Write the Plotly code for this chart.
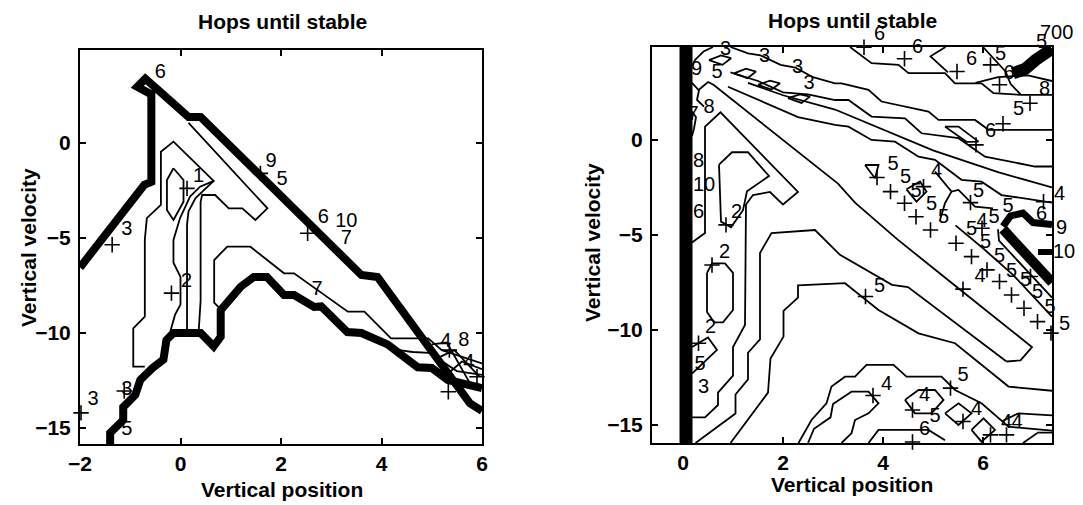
import plotly.graph_objects as go

FONT = "Liberation Sans, Arial, Helvetica, sans-serif"

# ---------------- axes data ----------------
L_XRANGE = [-2, 6]
L_YRANGE = [-15.84, 4.89]
L_XTICKS = [-2, 0, 2, 4, 6]
R_XRANGE = [-0.62, 7.38]
R_YRANGE = [-15.95, 4.89]
R_XTICKS = [0, 2, 4, 6]
YTICKS = [-15, -10, -5, 0]
TITLE = "Hops until stable"
XLABEL = "Vertical position"
YLABEL = "Vertical velocity"

# ---------------- left panel contours ----------------
lt_upper_x = [-2.0, -0.95, -0.72, -0.58, -0.58, -0.86, -0.70, -0.40, 0.16, 0.40, 3.60, 3.92, 5.76, 6.0]
lt_upper_y = [-6.55, -2.95, -2.2, -2.05, 2.55, 2.95, 3.38, 2.68, 1.37, 1.37, -6.95, -7.05, -13.7, -14.1]
lt_lower_x = [-1.4, -1.4, -1.14, -1.14, -0.9, -0.8, -0.54, -0.34, -0.28, -0.14, 0.4, 0.66, 0.8, 0.8, 1.2,
              1.46, 1.72, 2.06, 2.26, 2.66, 2.8, 3.32, 3.6, 4.0, 4.12, 4.72, 5.0, 5.32, 5.7, 6.0]
lt_lower_y = [-15.84, -15.26, -14.58, -13.9, -13.26, -12.47, -11.8, -11.4, -10.37, -10.0, -10.0, -10.7, -10.2,
              -8.8, -7.56, -7.05, -7.05, -8.0, -8.0, -8.63, -8.6, -9.95, -10.0, -10.5, -10.6, -11.8, -11.84,
              -12.47, -12.7, -12.9]
lc_outer_x = [-0.71, -0.94, -0.94, -0.71, -0.71, -0.67, -0.39, -0.39, -0.14, 0.66, 0.39, 0.19, -0.01, -0.14,
              -0.14, 0.0, 0.0, -0.11, -0.2]
lc_outer_y = [-11.77, -11.77, -9.75, -9.14, -5.1, -3.96, -3.26, -0.46, 0.07, -2.0, -2.3, -2.82, -3.96, -5.1,
              -6.3, -7.05, -8.5, -9.05, -9.9]
lc_loop1_x = [-0.14, 0.06, 0.06, -0.14, -0.27, -0.27, -0.14]
lc_loop1_y = [-1.33, -1.95, -3.09, -4.05, -3.53, -1.95, -1.33]
lc_two_x = [0.66, 0.45, 0.3, 0.16, 0.13, 0.13]
lc_two_y = [-2.0, -2.5, -2.9, -3.6, -4.3, -9.95]
lc_strip_x = [0.16, 1.73, 1.49, 1.23, 0.96, 0.69, 0.43, 0.40, 0.40, 0.36]
lc_strip_y = [1.05, -3.44, -4.05, -3.44, -3.44, -2.74, -2.74, -3.1, -8.3, -10.0]
lc_seven_x = [0.78, 0.67, 0.67, 0.93, 1.39, 2.06, 2.26, 3.33, 3.66, 4.19, 4.93, 5.2, 6.0]
lc_seven_y = [-8.7, -8.4, -6.16, -5.46, -5.46, -6.86, -6.86, -8.88, -8.88, -10.28, -10.28, -10.9, -11.6]
lc_eight_x = [4.35, 4.62, 4.95, 5.5, 6.0]
lc_eight_y = [-10.9, -11.0, -11.05, -12.0, -12.2]
lc_h1_x = [5.0, 5.3, 5.75]
lc_h1_y = [-10.6, -10.5, -12.6]
lc_h2_x = [5.05, 5.45, 5.95]
lc_h2_y = [-11.4, -10.9, -12.3]
lc_h3_x = [5.25, 5.6, 6.0]
lc_h3_y = [-12.3, -11.5, -11.9]

left_lbl_x = [0.36, 0.12, 2.72, 1.8, 2.02, 2.84, 3.3, 3.3, 5.28, 5.64, 5.74, -1.74, -1.07, -1.07, -1.07, -0.4]
left_lbl_y = [-1.8, -7.3, -7.74, -1.0, -1.95, -3.95, -4.15, -5.05, -10.45, -10.4, -11.6, -13.5, -4.58, -13.0, -15.1, 3.7]
left_lbl_t = ["1", "2", "7", "9", "5", "6", "10", "7", "4", "8", "4", "3", "3", "3", "5", "6"]
left_plus_x = [0.13, -0.18, 1.59, 2.53, 5.33, 5.9, -1.36, -1.98, -1.12, 5.35]
left_plus_y = [-2.39, -7.9, -1.6, -4.75, -13.09, -12.3, -5.36, -14.2, -13.05, -10.9]

# ---------------- right panel contours ----------------
rb_bar_x = [-0.06, 0.18, 0.18, -0.06, -0.06]
rb_bar_y = [-15.95, -15.95, 4.89, 4.89, -15.95]

rc_outer_x = [0.18, 0.44, 0.44, 0.75, 2.3, 2.0, 1.74, 1.4, 1.26, 1.24, 1.0, 1.0, 0.7, 0.7, 0.44, 0.18]
rc_outer_y = [-5.4, -4.9, 0.7, 1.45, -2.74, -3.4, -2.74, -2.9, -3.4, -9.74, -10.9, -12.4, -13.3, -13.95, -14.6, -14.6]
rc_loopa_x = [0.72, 0.98, 1.3, 1.72, 1.28, 1.2, 0.96, 0.76, 0.72]
rc_loopa_y = [-1.3, -0.65, -0.65, -1.9, -2.7, -3.7, -4.6, -4.3, -1.3]
rc_loopb_x = [0.48, 0.58, 0.84, 1.0, 1.0, 0.8, 0.62, 0.48, 0.48]
rc_loopb_y = [-7.0, -6.5, -6.5, -7.0, -8.95, -9.6, -9.6, -9.05, -7.0]
rc_vee_x = [0.18, 0.5, 0.68, 0.42, 0.18]
rc_vee_y = [-10.9, -10.4, -11.05, -11.7, -12.3]
rc_d1_x = [0.3, 0.5, 0.61, 3.1, 3.44, 3.91, 4.3, 5.6, 6.98, 6.75, 6.47]
rc_d1_y = [2.6, 3.05, 2.9, -2.3, -3.3, -4.4, -5.26, -8.0, -10.9, -11.6, -11.66]
rc_e_x = [0.25, 1.05, 1.05, 1.3, 1.3, 1.54, 1.54, 1.77, 2.64, 3.14, 4.18, 4.5, 6.47]
rc_e_y = [-15.95, -14.4, -13.4, -12.6, -11.2, -10.5, -5.95, -4.9, -4.74, -6.05, -7.63, -7.74, -11.66]
rc_b_x = [0.95, 1.7, 1.75, 2.01, 2.01, 2.3, 2.3, 3.24, 3.91, 4.71, 5.44, 6.17, 6.51, 7.38]
rc_b_y = [-15.95, -13.3, -11.5, -10.35, -9.0, -8.3, -7.65, -7.54, -8.95, -10.18, -10.7, -12.28, -12.98, -13.2]
rc_f_x = [2.31, 2.57, 2.87, 2.97, 3.24, 3.44, 3.67, 4.21, 4.47, 5.17, 5.44, 5.97, 6.51, 7.38]
rc_f_y = [-15.95, -14.74, -13.86, -12.98, -12.46, -12.46, -11.84, -11.84, -12.46, -12.46, -13.16, -13.86, -15.09, -15.3]
rc_g_x = [2.5, 2.62, 2.95, 3.0, 3.37, 3.71, 3.91, 3.71, 3.44, 3.37, 3.17]
rc_g_y = [-15.95, -15.2, -14.6, -13.9, -13.25, -13.25, -13.86, -14.39, -14.74, -15.44, -15.95]
rc_h_x = [3.71, 3.91, 4.91, 5.24]
rc_h_y = [-15.95, -15.26, -15.26, -15.8]
rc_i_x = [4.44, 4.71, 5.04, 5.21, 4.97, 4.64, 4.44]
rc_i_y = [-13.68, -13.16, -13.16, -13.68, -14.39, -14.39, -13.68]
rc_j1_x = [5.24, 5.51, 5.77, 5.51, 5.24]
rc_j1_y = [-14.39, -13.86, -14.39, -15.0, -14.39]
rc_j2_x = [5.77, 6.01, 6.24, 5.97, 5.77]
rc_j2_y = [-15.26, -14.65, -15.26, -15.88, -15.26]
rc_k_x = [6.37, 6.71, 7.38]
rc_k_y = [-14.82, -14.39, -14.5]
rc_k2_x = [6.8, 7.1, 7.38]
rc_k2_y = [-15.95, -15.4, -15.4]
rc_a_x = [3.34, 3.77, 4.31, 4.51, 5.24, 5.44, 5.97, 6.21, 6.77, 7.38]
rc_a_y = [4.89, 4.04, 3.95, 3.51, 3.51, 2.98, 2.98, 2.46, 2.37, 2.37]
rc_a2_x = [5.25, 4.95, 5.3]
rc_a2_y = [4.89, 4.4, 3.55]
rc_b3_x = [0.95, 1.3, 1.55, 1.95, 2.25, 2.6, 3.04, 3.17, 3.71, 3.97, 4.91, 5.11, 5.84, 6.11, 7.38]
rc_b3_y = [4.89, 4.55, 4.45, 3.95, 3.8, 3.3, 2.98, 2.98, 2.63, 2.02, 1.49, 1.05, 1.05, 0.53, 0.53]
rc_c_x = [0.95, 1.5, 2.0, 2.5, 3.04, 3.31, 3.77, 4.44, 4.77, 5.51, 6.04, 7.04, 7.38]
rc_c_y = [3.55, 3.1, 2.5, 2.4, 2.1, 2.1, 1.23, 1.14, 0.35, 0.09, -0.88, -1.4, -1.4]
rc_d_x = [1.3, 2.0, 3.04, 5.0, 6.3, 7.38]
rc_d_y = [3.0, 2.35, 1.6, -0.55, -1.7, -2.5]
rc_e2_x = [0.9, 1.6, 2.3, 3.04, 3.31, 3.77, 4.24, 4.71, 5.04, 5.57, 5.97, 6.37, 7.38]
rc_e2_y = [2.8, 2.0, 1.2, 0.79, 0.7, 0.0, -0.09, -0.88, -1.05, -2.1, -2.2, -2.9, -3.3]
rc_n1_x = [6.0, 6.2, 6.45, 6.55, 6.75]
rc_n1_y = [4.89, 4.3, 3.6, 2.95, 2.4]
rc_n2_x = [5.85, 6.3, 6.9, 7.38]
rc_n2_y = [3.0, 3.3, 3.4, 3.1]
rc_par_x = [5.24, 5.51, 5.91, 5.67, 5.24]
rc_par_y = [0.7, 0.7, -0.09, -0.1, 0.7]
rc_tri_x = [3.64, 3.91, 3.84, 3.64]
rc_tri_y = [-1.32, -1.32, -2.02, -1.32]
rc_dia_x = [4.47, 4.74, 4.87, 4.67, 4.47]
rc_dia_y = [-2.6, -2.19, -2.72, -3.25, -2.6]
rc_m1_x = [5.04, 5.37, 5.51, 5.71, 5.84, 6.2]
rc_m1_y = [-1.67, -2.72, -2.63, -3.16, -3.51, -3.6]
rc_m2_x = [5.37, 5.24, 5.14]
rc_m2_y = [-2.72, -3.33, -4.21]
rc_p_x = [6.3, 6.32, 7.38]
rc_p_y = [-4.7, -5.3, -8.3]
rc_q_x = [5.45, 6.0, 6.6, 7.38]
rc_q_y = [-4.5, -5.7, -7.1, -9.3]
rc_da_x = [0.52, 0.76, 0.96, 0.79, 0.52]
rc_da_y = [4.2, 4.45, 4.3, 3.95, 4.2]
rc_db_x = [1.02, 1.26, 1.46, 1.29, 1.02]
rc_db_y = [3.5, 3.75, 3.6, 3.25, 3.5]
rc_dc_x = [1.5, 1.74, 1.94, 1.77, 1.5]
rc_dc_y = [2.9, 3.12, 2.98, 2.65, 2.9]
rc_dd_x = [2.1, 2.34, 2.54, 2.37, 2.1]
rc_dd_y = [2.2, 2.4, 2.28, 1.95, 2.2]
rc_w1_x = [0.18, 0.24, 0.41, 0.6]
rc_w1_y = [3.9, 4.21, 4.65, 4.89]
rc_w2_x = [0.18, 0.32, 0.28, 0.42]
rc_w2_y = [3.0, 2.6, 2.1, 1.75]
rc_w3_x = [0.18, 0.26, 0.22, 0.18]
rc_w3_y = [1.5, 1.2, 0.6, 0.2]
rt_top_x = [6.6, 6.85, 7.05, 7.25, 7.38]
rt_top_y = [3.5, 3.75, 4.2, 4.6, 4.8]
rt_arm_x = [6.4, 6.55, 6.8, 7.0, 7.38]
rt_arm_y = [-4.55, -4.0, -3.85, -4.35, -4.45]
rt_diag_x = [6.4, 7.38]
rt_diag_y = [-4.7, -7.5]
rt_stub_x = [7.1, 7.38]
rt_stub_y = [-5.9, -5.9]

right_lbl = [
    ("3", 0.85, 4.75), ("3", 1.63, 4.39), ("3", 2.29, 3.77), ("3", 2.52, 2.92),
    ("9", 0.27, 3.68), ("5", 0.68, 3.5), ("8", 0.52, 1.67), ("7", 0.2, 1.3), ("8", 0.31, -1.14),
    ("10", 0.42, -2.45), ("6", 0.31, -3.86), ("2", 1.07, -3.86), ("2", 0.83, -5.96), ("2", 0.55, -9.91),
    ("5", 0.34, -11.85), ("3", 0.41, -13.05), ("5", 3.93, -7.72), ("4", 4.07, -12.89), ("4", 4.83, -13.5),
    ("5", 5.04, -14.56), ("6", 4.83, -15.26), ("4", 5.87, -14.21), ("4", 6.47, -14.91), ("4", 6.68, -14.91),
    ("5", 5.6, -12.45), ("6", 3.93, 5.65), ("6", 4.69, 4.82), ("6", 5.77, 4.21), ("5", 6.35, 4.45),
    ("6", 6.52, 3.45), ("5", 7.16, 5.2), ("700", 7.47, 5.7), ("8", 7.23, 2.63), ("5", 6.71, 1.58),
    ("6", 6.15, 0.44), ("5", 4.2, -1.31), ("4", 5.07, -1.67), ("5", 4.45, -2.02), ("5", 4.66, -2.72),
    ("5", 4.97, -3.42), ("5", 5.21, -4.12), ("5", 5.91, -2.72), ("5", 6.5, -3.51), ("6", 7.17, -3.95),
    ("4", 7.52, -2.81), ("9", 7.56, -4.56), ("10", 7.62, -5.85), ("5", 6.22, -4.12), ("4", 5.98, -4.3),
    ("5", 5.77, -4.74), ("5", 6.05, -5.44), ("5", 6.33, -6.14), ("5", 6.57, -6.93), ("5", 6.85, -7.45),
    ("5", 7.09, -8.07), ("5", 7.34, -8.86), ("5", 7.62, -9.65), ("4", 5.94, -7.19),
]
right_lbl_t = [t for t, _, _ in right_lbl]
right_lbl_x = [x for _, x, _ in right_lbl]
right_lbl_y = [y for _, _, y in right_lbl]
right_plus_x = [3.62, 4.43, 5.48, 6.15, 6.33, 6.94, 6.4, 5.86, 3.88, 4.15, 4.43, 4.66, 4.95, 5.75, 5.98,
                5.46, 5.77, 6.08, 6.33, 6.57, 6.82, 7.09, 7.36, 5.6, 6.95, 3.65, 3.8, 4.59, 5.6, 6.15,
                6.47, 5.35, 4.59, 0.86, 0.58, 0.31, 7.21, 4.81]
right_plus_y = [4.88, 4.27, 3.6, 3.95, 2.9, 1.93, 0.85, -0.26, -1.98, -2.72, -3.33, -4.04, -4.74, -3.3,
                -4.65, -5.44, -6.14, -6.84, -7.45, -8.16, -8.86, -9.56, -10.17, -7.85, -7.19, -8.24,
                -13.45, -14.21, -14.82, -15.52, -15.52, -13.06, -15.9, -4.47, -6.58, -10.7, -3.25, -2.46]

# ---------------- figure ----------------
fig = go.Figure()
LABEL_FONT = dict(family=FONT, size=20, color="black")


def line(xs, ys, ax, width=1.8):
    xa, ya = ("x", "y") if ax == 1 else ("x2", "y2")
    fig.add_trace(go.Scatter(x=xs, y=ys, mode="lines", xaxis=xa, yaxis=ya,
                             line=dict(color="black", width=width),
                             hoverinfo="skip", showlegend=False))


for xs, ys in [(lt_upper_x, lt_upper_y), (lt_lower_x, lt_lower_y)]:
    line(xs, ys, 1, width=8)
for xs, ys in [(lc_outer_x, lc_outer_y), (lc_loop1_x, lc_loop1_y), (lc_two_x, lc_two_y),
               (lc_strip_x, lc_strip_y), (lc_seven_x, lc_seven_y), (lc_eight_x, lc_eight_y),
               (lc_h1_x, lc_h1_y), (lc_h2_x, lc_h2_y), (lc_h3_x, lc_h3_y)]:
    line(xs, ys, 1)

fig.add_trace(go.Scatter(x=rb_bar_x, y=rb_bar_y, mode="lines", fill="toself", fillcolor="black",
                         line=dict(color="black", width=1), xaxis="x2", yaxis="y2",
                         hoverinfo="skip", showlegend=False))
for xs, ys in [(rc_outer_x, rc_outer_y), (rc_loopa_x, rc_loopa_y), (rc_loopb_x, rc_loopb_y),
               (rc_vee_x, rc_vee_y), (rc_d1_x, rc_d1_y), (rc_e_x, rc_e_y), (rc_b_x, rc_b_y),
               (rc_f_x, rc_f_y), (rc_g_x, rc_g_y), (rc_h_x, rc_h_y), (rc_i_x, rc_i_y),
               (rc_j1_x, rc_j1_y), (rc_j2_x, rc_j2_y), (rc_k_x, rc_k_y), (rc_k2_x, rc_k2_y),
               (rc_a_x, rc_a_y), (rc_a2_x, rc_a2_y), (rc_b3_x, rc_b3_y), (rc_c_x, rc_c_y),
               (rc_d_x, rc_d_y), (rc_e2_x, rc_e2_y), (rc_n1_x, rc_n1_y), (rc_n2_x, rc_n2_y),
               (rc_par_x, rc_par_y), (rc_tri_x, rc_tri_y), (rc_dia_x, rc_dia_y), (rc_m1_x, rc_m1_y),
               (rc_m2_x, rc_m2_y), (rc_p_x, rc_p_y), (rc_q_x, rc_q_y), (rc_da_x, rc_da_y),
               (rc_db_x, rc_db_y), (rc_dc_x, rc_dc_y), (rc_dd_x, rc_dd_y), (rc_w1_x, rc_w1_y),
               (rc_w2_x, rc_w2_y), (rc_w3_x, rc_w3_y)]:
    line(xs, ys, 2)
line(rt_top_x, rt_top_y, 2, width=12)
line(rt_arm_x, rt_arm_y, 2, width=7)
line(rt_diag_x, rt_diag_y, 2, width=10)
line(rt_stub_x, rt_stub_y, 2, width=6)


def labels(lx, ly, lt, xa, ya, xr, yr):
    ix, iy, it = [], [], []
    for x, y, t in zip(lx, ly, lt):
        if xr[0] <= x <= xr[1] and yr[0] <= y <= yr[1]:
            ix.append(x); iy.append(y); it.append(t)
        else:
            # labels placed just outside the box: position them in the axis-domain frame
            fig.add_annotation(x=(x - xr[0]) / (xr[1] - xr[0]), y=(y - yr[0]) / (yr[1] - yr[0]),
                               xref=xa + " domain", yref=ya + " domain", text=t, showarrow=False,
                               font=LABEL_FONT, xanchor="center", yanchor="middle")
    fig.add_trace(go.Scatter(x=ix, y=iy, text=it, mode="text", xaxis=xa, yaxis=ya,
                             textfont=LABEL_FONT, textposition="middle center", cliponaxis=False,
                             hoverinfo="skip", showlegend=False))


labels(left_lbl_x, left_lbl_y, left_lbl_t, "x", "y", L_XRANGE, L_YRANGE)
labels(right_lbl_x, right_lbl_y, right_lbl_t, "x2", "y2", R_XRANGE, R_YRANGE)
for px, py, xa, ya in [(left_plus_x, left_plus_y, "x", "y"), (right_plus_x, right_plus_y, "x2", "y2")]:
    fig.add_trace(go.Scatter(x=px, y=py, mode="markers", xaxis=xa, yaxis=ya,
                             marker=dict(symbol="cross-thin", size=11, line=dict(color="black", width=1.6)),
                             cliponaxis=False, hoverinfo="skip", showlegend=False))

# the page body keeps an 8 px browser margin, so the figure is 8 px smaller on each axis
W, H = 1075, 497
OFF = 8
axis_common = dict(showline=True, linewidth=2, linecolor="black", mirror="allticks", ticks="inside",
                   ticklen=6, tickwidth=1.5, tickcolor="black", showgrid=False, zeroline=False,
                   automargin=False,
                   tickfont=dict(family=FONT, size=21, color="black", weight="bold"))


def dx(px0, px1):
    return [(px0 - OFF) / W, (px1 - OFF) / W]


def dy(top, bottom):
    return [(H - (bottom - OFF)) / H, (H - (top - OFF)) / H]


fig.update_layout(
    width=W, height=H, margin=dict(l=0, r=0, t=0, b=0, pad=0, autoexpand=False),
    paper_bgcolor="white", plot_bgcolor="white", showlegend=False,
    xaxis=dict(domain=dx(80, 482), range=L_XRANGE, tickvals=L_XTICKS, anchor="y",
               ticklabelstandoff=0, **axis_common),
    yaxis=dict(domain=dy(50, 444), range=L_YRANGE, tickvals=YTICKS, anchor="x",
               ticklabelstandoff=3, **axis_common),
    xaxis2=dict(domain=dx(652, 1052), range=R_XRANGE, tickvals=R_XTICKS, anchor="y2",
                ticklabelstandoff=0, **axis_common),
    yaxis2=dict(domain=dy(47, 443), range=R_YRANGE, tickvals=YTICKS, anchor="x2",
                ticklabelstandoff=3, **axis_common),
)

ann_font = dict(family=FONT, size=21, color="black", weight="bold")
for cx, ty, xy_y, vx, vy in [(282, 22, 489, 28, 248), (852, 21, 484, 592, 243)]:
    fig.add_annotation(text=TITLE, x=(cx - OFF) / W, y=1 - (ty - OFF) / H, xref="paper", yref="paper",
                       showarrow=False, font=ann_font, xanchor="center", yanchor="middle")
    fig.add_annotation(text=XLABEL, x=(cx - OFF) / W, y=1 - (xy_y - OFF) / H, xref="paper", yref="paper",
                       showarrow=False, font=ann_font, xanchor="center", yanchor="middle")
    fig.add_annotation(text=YLABEL, x=(vx - OFF) / W, y=1 - (vy - OFF) / H, xref="paper", yref="paper",
                       showarrow=False, font=ann_font, textangle=-90, xanchor="center", yanchor="middle")

fig.write_html("out.html")
